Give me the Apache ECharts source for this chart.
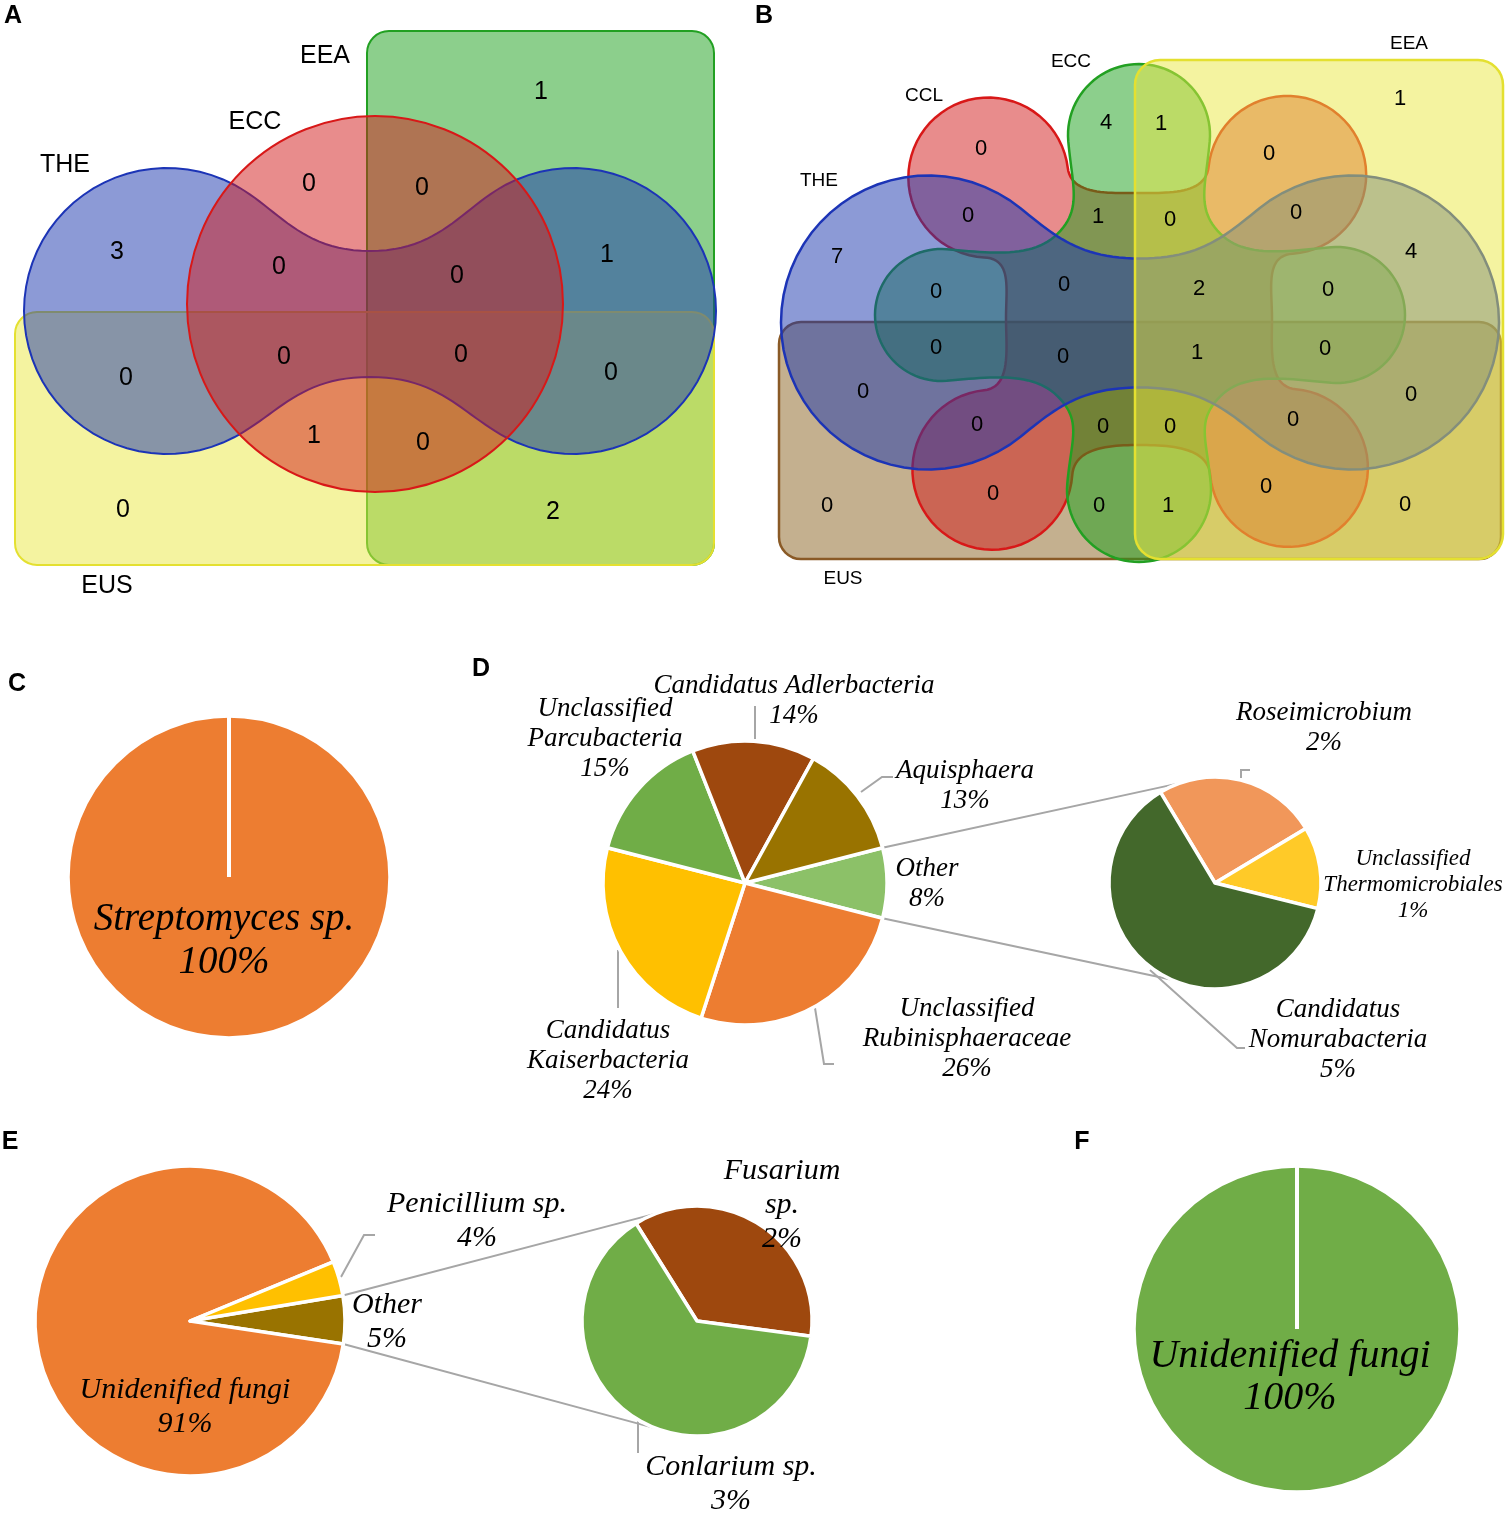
<!DOCTYPE html>
<html><head><meta charset="utf-8">
<script src="https://cdn.jsdelivr.net/npm/echarts@6/dist/echarts.min.js"></script>
<style>html,body{margin:0;padding:0;background:#fff}#c{width:1511px;height:1517px}</style>
</head><body><div id="c"></div>
<script>
// ---------------- DATA ----------------
const vennASetNames = ['THE', 'ECC', 'EEA', 'EUS'];
const vennARegions = ['THE','ECC','EEA','EUS','THE&ECC','THE&EEA','THE&EUS','ECC&EEA','ECC&EUS','EEA&EUS',
  'THE&ECC&EEA','THE&ECC&EUS','THE&EEA&EUS','ECC&EEA&EUS','THE&ECC&EEA&EUS'];
const vennACounts = [3, 0, 1, 0, 0, 1, 0, 0, 1, 2, 0, 0, 0, 0, 0];

const vennBSetNames = ['THE', 'CCL', 'ECC', 'EEA', 'EUS'];
const vennBRegions = ['CCL','ECC','ECC&EEA','EEA','CCL&EEA','THE&CCL','CCL&ECC','CCL&ECC&EEA','THE&CCL&EEA',
  'THE','THE&EEA','THE&ECC','THE&CCL&ECC','THE&CCL&ECC&EEA','THE&ECC&EEA','THE&ECC&EUS','THE&CCL&ECC&EUS',
  'THE&CCL&ECC&EEA&EUS','THE&ECC&EEA&EUS','THE&EUS','THE&EEA&EUS','THE&CCL&EUS','CCL&ECC&EUS',
  'CCL&ECC&EEA&EUS','THE&CCL&EEA&EUS','EUS','CCL&EUS','ECC&EUS','ECC&EEA&EUS','CCL&EEA&EUS','EEA&EUS'];
const vennBCounts = [0, 4, 1, 1, 0, 0, 1, 0, 0, 7, 4, 0, 0, 2, 0, 0, 0, 1, 0, 0, 0, 0, 0, 0, 0, 0, 0, 0, 1, 0, 0];

const pieCNames = ['Streptomyces sp.'];
const pieCValues = [100];
const pieDNames = ['Other', 'Unclassified\nRubinisphaeraceae', 'Candidatus\nKaiserbacteria',
  'Unclassified\nParcubacteria', 'Candidatus Adlerbacteria', 'Aquisphaera'];
const pieDValues = [8, 26, 24, 15, 14, 13];
const pieDOtherNames = ['Roseimicrobium', 'Unclassified\nThermomicrobiales', 'Candidatus\nNomurabacteria'];
const pieDOtherValues = [2, 1, 5];
const pieENames = ['Other', 'Unidenified fungi', 'Penicillium sp.'];
const pieEValues = [5, 91.4, 3.6];
const pieEOtherNames = ['Fusarium\nsp.', 'Conlarium sp.'];
const pieEOtherValues = [1.8, 3.2];
const pieFNames = ['Unidenified fungi'];
const pieFValues = [100];

// ---------------- LAYOUT / STYLE ----------------
const vennAPos = {
  'THE':[117,252],'ECC':[309,184],'EEA':[541,92],'EUS':[123,510],'THE&ECC':[279,267],'THE&EEA':[607,255],
  'THE&EUS':[126,378],'ECC&EEA':[422,188],'ECC&EUS':[314,436],'EEA&EUS':[553,512],'THE&ECC&EEA':[457,276],
  'THE&ECC&EUS':[284,357],'THE&EEA&EUS':[611,373],'ECC&EEA&EUS':[423,443],'THE&ECC&EEA&EUS':[461,355]
};
const vennALabelPos = {THE:[65,165], ECC:[255,122], EEA:[325,56], EUS:[107,586]};
const vennBPos = {
  'CCL':[981,149],'ECC':[1106,123],'ECC&EEA':[1161,124],'EEA':[1400,99],'CCL&EEA':[1269,154],'THE&CCL':[968,216],
  'CCL&ECC':[1098,217],'CCL&ECC&EEA':[1170,220],'THE&CCL&EEA':[1296,213],'THE':[837,257],'THE&EEA':[1411,252],
  'THE&ECC':[936,292],'THE&CCL&ECC':[1064,285],'THE&CCL&ECC&EEA':[1199,289],'THE&ECC&EEA':[1328,290],
  'THE&ECC&EUS':[936,348],'THE&CCL&ECC&EUS':[1063,357],'THE&CCL&ECC&EEA&EUS':[1197,353],'THE&ECC&EEA&EUS':[1325,349],
  'THE&EUS':[863,392],'THE&EEA&EUS':[1411,395],'THE&CCL&EUS':[977,425],'CCL&ECC&EUS':[1103,427],
  'CCL&ECC&EEA&EUS':[1170,427],'THE&CCL&EEA&EUS':[1293,420],'EUS':[827,506],'CCL&EUS':[993,494],
  'ECC&EUS':[1099,506],'ECC&EEA&EUS':[1168,506],'CCL&EEA&EUS':[1266,487],'EEA&EUS':[1405,505]
};
const vennBLabelPos = {THE:[819,181], CCL:[924,96], ECC:[1071,62], EEA:[1409,44], EUS:[843,579]};

const rad = Math.PI / 180;
function bez(p0, p1, p2, p3, pts, n) {
  n = n || 24;
  for (let s = 1; s <= n; s++) {
    const t = s / n, u = 1 - t;
    pts.push([u*u*u*p0[0] + 3*u*u*t*p1[0] + 3*u*t*t*p2[0] + t*t*t*p3[0],
              u*u*u*p0[1] + 3*u*u*t*p1[1] + 3*u*t*t*p2[1] + t*t*t*p3[1]]);
  }
}
// flower-like shape: lobes around a centre joined by concave necks
function flower(cx, cy, lobes, dips, beta, k1, k2) {
  const pts = [];
  const n = lobes.length;
  const lc = L => [cx + L.d * Math.cos(L.a * rad), cy - L.d * Math.sin(L.a * rad)];
  for (let i = 0; i < n; i++) {
    const Lb = lobes[i], C = lc(Lb);
    for (let s = 0; s <= 48; s++) {
      const t = (Lb.a - beta + 2 * beta * s / 48) * rad;
      pts.push([C[0] + Lb.r * Math.cos(t), C[1] - Lb.r * Math.sin(t)]);
    }
    const te = (Lb.a + beta) * rad;
    const E = [C[0] + Lb.r * Math.cos(te), C[1] - Lb.r * Math.sin(te)];
    const tE = [-Math.sin(te), -Math.cos(te)];
    const Nb = lobes[(i + 1) % n], CN = lc(Nb);
    const dp = dips[i];
    const D = [cx + dp.m * Math.cos(dp.a * rad), cy - dp.m * Math.sin(dp.a * rad)];
    const tD = [-Math.sin(dp.a * rad), -Math.cos(dp.a * rad)];
    const ts = (Nb.a - beta) * rad;
    const S = [CN[0] + Nb.r * Math.cos(ts), CN[1] - Nb.r * Math.sin(ts)];
    const tS = [-Math.sin(ts), -Math.cos(ts)];
    bez(E, [E[0] + k1 * tE[0], E[1] + k1 * tE[1]], [D[0] - k2 * tD[0], D[1] - k2 * tD[1]], D, pts);
    bez(D, [D[0] + k2 * tD[0], D[1] + k2 * tD[1]], [S[0] - k1 * tS[0], S[1] - k1 * tS[1]], S, pts);
  }
  return pts;
}

const fillC = {
  blue: 'rgba(25,53,173,0.5)', red: 'rgba(209,25,25,0.5)', green: 'rgba(25,159,25,0.5)',
  yellow: 'rgba(233,231,65,0.5)', brown: 'rgba(137,97,31,0.5)'
};
const strokeC = {blue: '#1c34b6', red: '#d81818', green: '#22a022', yellow: '#e4e030', brown: '#8a5a26'};

const graphics = [];
let zc = 1;
function poly(points, col, lw) {
  graphics.push({type: 'polygon', z: zc++, silent: true, shape: {points: points},
    style: {fill: fillC[col], stroke: strokeC[col], lineWidth: lw || 2}});
}
function rrect(x, y, w, h, r, col, lw) {
  graphics.push({type: 'rect', z: zc++, silent: true, shape: {x: x, y: y, width: w, height: h, r: r},
    style: {fill: fillC[col], stroke: strokeC[col], lineWidth: lw || 2}});
}
function txt(x, y, s, size, opts) {
  graphics.push(Object.assign({type: 'text', z: 200, silent: true, x: x, y: y,
    style: {text: s, fill: '#000', font: size + 'px "Liberation Sans", Arial, sans-serif',
      align: 'center', verticalAlign: 'middle'}}, opts || {}));
}

// ---- Venn A ----
rrect(367, 31, 347, 534, 22, 'green');   // EEA
rrect(15, 312, 699, 253, 22, 'yellow');  // EUS
poly(flower(370, 311, [{a: 0, d: 203, r: 143}, {a: 180, d: 203, r: 143}],
  [{a: 90, m: 60}, {a: 270, m: 66}], 118, 50, 70), 'blue');   // THE
graphics.push({type: 'circle', z: zc++, silent: true, shape: {cx: 375, cy: 304, r: 188},
  style: {fill: fillC.red, stroke: strokeC.red, lineWidth: 2}});   // ECC
vennARegions.forEach((k, i) => txt(vennAPos[k][0], vennAPos[k][1], String(vennACounts[i]), 25));
vennASetNames.forEach(k => txt(vennALabelPos[k][0], vennALabelPos[k][1], k, 25));

// ---- Venn B ----
rrect(779, 322, 722, 237, 22, 'brown', 2.5);  // EUS
poly(flower(1139, 318, [{a: 44, d: 206, r: 79}, {a: 137, d: 206, r: 80}, {a: 226, d: 211, r: 80}, {a: 315, d: 212, r: 79}],
  [{a: 90, m: 125}, {a: 180, m: 133}, {a: 270, m: 127}, {a: 360, m: 133}], 130, 28, 30), 'red', 2.5);  // CCL
poly(flower(1139, 315, [{a: 0, d: 198, r: 68}, {a: 90, d: 180, r: 71}, {a: 180, d: 198, r: 66}, {a: 270, d: 175, r: 72}],
  [{a: 45, m: 115}, {a: 135, m: 115}, {a: 225, m: 115}, {a: 315, m: 115}], 95, 45, 35), 'green', 2.5);  // ECC
poly(flower(1140, 322.5, [{a: 0, d: 212, r: 147}, {a: 180, d: 212, r: 147}],
  [{a: 90, m: 64}, {a: 270, m: 65}], 129, 45, 60), 'blue', 2.5);  // THE
rrect(1135, 60, 368, 499, 25, 'yellow', 2.5);  // EEA
vennBRegions.forEach((k, i) => txt(vennBPos[k][0], vennBPos[k][1], String(vennBCounts[i]), 22));
vennBSetNames.forEach(k => txt(vennBLabelPos[k][0], vennBLabelPos[k][1], k, 19));

// ---- panel letters ----
[['A', 13, 16], ['B', 764, 16], ['C', 17, 684], ['D', 481, 669], ['E', 10, 1142], ['F', 1082, 1142]].forEach(p =>
  txt(p[1], p[2], p[0], 24, {style: {text: p[0], fill: '#000', font: 'bold 25px "Liberation Sans", Arial, sans-serif',
    align: 'center', verticalAlign: 'middle'}}));

// ---- pies geometry ----
const P = {
  C: {c: [229, 877], r: 161, start: 90},
  D1: {c: [745, 883], r: 142, start: 14.4},
  D2: {c: [1215, 883], r: 106, start: 121},
  E1: {c: [190, 1321], r: 155, start: 9.5},
  E2: {c: [697, 1321], r: 115, start: 122},
  F: {c: [1297, 1329], r: 163, start: 90}
};
const labelPos = {
  C: [[224, 941]],
  D1: [[927, 884], [967, 1039], [608, 1061], [605, 739], [794, 701], [965, 786]],
  D2: [[1324, 728], [1413, 885], [1338, 1040]],
  E1: [[387, 1322], [185, 1407], [477, 1221]],
  E2: [[782, 1205], [731, 1484]],
  F: [[1290, 1377]]
};
const ptOn = (k, ang, rr) => [P[k].c[0] + (rr || P[k].r) * Math.cos(ang * rad), P[k].c[1] - (rr || P[k].r) * Math.sin(ang * rad)];
const grey = '#a6a6a6';
function pl(points) {
  graphics.push({type: 'polyline', z: 0, silent: true, shape: {points: points},
    style: {stroke: grey, lineWidth: 2, fill: null}});
}
// pie-of-pie connectors
pl([ptOn('D1', 14.4), ptOn('D2', 110)]);
pl([ptOn('D1', -14.4), ptOn('D2', -114)]);
pl([ptOn('E1', 9.5), ptOn('E2', 111)]);
pl([ptOn('E1', -8.5), ptOn('E2', -111)]);
// leader lines
pl([[755, 739], [755, 706]]);
pl([[861, 792], [882, 777], [893, 777]]);
pl([[618, 950], [618, 1008]]);
pl([[815, 1008], [824, 1064], [834, 1064]]);
pl([[1241, 778], [1241, 770], [1250, 770]]);
pl([[1150, 970], [1237, 1048], [1245, 1048]]);
pl([[341, 1277], [364, 1235], [375, 1235]]);
pl([[638, 1418], [638, 1453]]);
// single-slice start lines
['C', 'F'].forEach(k => graphics.push({type: 'line', z: 100, silent: true,
  shape: {x1: P[k].c[0], y1: P[k].c[1], x2: P[k].c[0], y2: P[k].c[1] - P[k].r},
  style: {stroke: '#fff', lineWidth: 4}}));

function pieSeries(key, names, values, colors, font, lh, extra) {
  return {
    type: 'pie', id: key, center: P[key].c, radius: P[key].r, startAngle: P[key].start, clockwise: true,
    avoidLabelOverlap: false, silent: true, animation: false,
    itemStyle: {borderColor: '#fff', borderWidth: 3.5},
    label: {show: true, position: 'inside', color: '#000', fontFamily: '"Liberation Serif", "Times New Roman", serif',
      fontStyle: 'italic', fontSize: font, lineHeight: lh,
      formatter: p => p.name + '\n' + Math.round(p.value) + '%'},
    labelLine: {show: false},
    labelLayout: p => ({x: labelPos[key][p.dataIndex][0], y: labelPos[key][p.dataIndex][1], align: 'center', verticalAlign: 'middle'}),
    emphasis: {disabled: true},
    data: names.map((n, i) => Object.assign({name: n, value: values[i], itemStyle: {color: colors[i]}},
      (extra && extra[i]) || {}))
  };
}

const chart = echarts.init(document.getElementById('c'), null, {renderer: 'canvas'});
chart.setOption({
  animation: false,
  backgroundColor: '#fff',
  graphic: {elements: graphics},
  series: [
    pieSeries('C', pieCNames, pieCValues, ['#ed7d31'], 39, 43),
    pieSeries('D1', pieDNames, pieDValues, ['#8cc168', '#ed7d31', '#ffc000', '#70ad47', '#9e480e', '#997300'], 27, 30),
    pieSeries('D2', pieDOtherNames, pieDOtherValues, ['#f1975a', '#ffca28', '#43682b'], 27, 30,
      [null, {label: {fontSize: 23, lineHeight: 26}}, null]),
    pieSeries('E1', pieENames, pieEValues, ['#997300', '#ed7d31', '#ffc000'], 30, 34),
    pieSeries('E2', pieEOtherNames, pieEOtherValues, ['#9e480e', '#70ad47'], 30, 34),
    pieSeries('F', pieFNames, pieFValues, ['#70ad47'], 40, 42)
  ]
});
</script></body></html>
